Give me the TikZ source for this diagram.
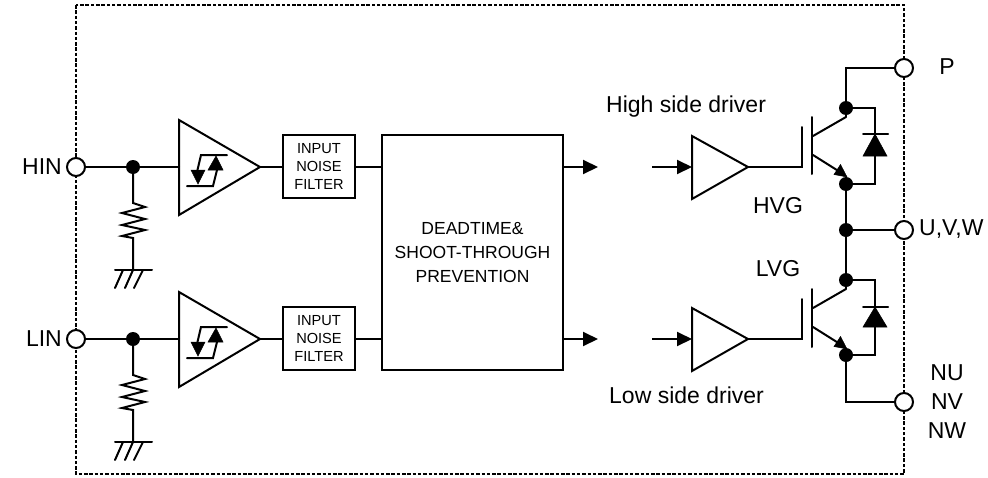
\documentclass[tikz,border=0pt]{standalone}
\usepackage{fontspec}
\setmainfont{Liberation Sans}
\usetikzlibrary{arrows.meta}
\tikzset{
  x=1pt,y=-1pt,
  wire/.style={line width=2pt,line cap=round,line join=miter},
  term/.style={circle,draw,line width=2pt,fill=white,minimum size=18pt,inner sep=0pt},
  junc/.style={circle,fill=black,minimum size=14pt,inner sep=0pt},
  fbox/.style={draw,line width=2pt,minimum width=72pt,minimum height=63pt,inner sep=0pt,align=center,font=\fontsize{14.6}{18}\selectfont},
  lab/.style={inner sep=0pt,font=\fontsize{23}{26}\selectfont,align=center},
  head/.style={-{Triangle[length=15pt,width=14pt]},line width=2pt},
  solid tri/.style={fill=black,draw=black,line width=.5pt},
}
\newcommand{\inputstage}[2]{%
  \begin{scope}[yshift=-#1pt]
  \coordinate (#2s) at (133,203);
  \coordinate (#2g) at (133,270);
  \coordinate (#2gl) at (115,270);
  \coordinate (#2gr) at (152,270);
  \node[term] (#2t) at (76,167) {};
  \node[junc] (#2j) at (133,167) {};
  \coordinate (#2ai) at (179,167);
  \coordinate (#2a) at (179,120);
  \coordinate (#2b) at (179,215);
  \coordinate (#2c) at (260,167);
  \node[fbox] (#2f) at (319,166.5) {INPUT\\NOISE\\FILTER};
  \draw[wire] (#2t) -- (#2j) -- (#2ai);
  \draw[wire] (#2a) -- (#2c) -- (#2b) -- cycle;
  \draw[wire] (#2c) -- (#2f.west |- #2c);
  \draw[wire] (#2j) -- (#2s) -- (145,207) -- (122,213) -- (145,219) -- (122,225) -- (145,230) -- (122,236) -- (133,238) -- (#2g);
  \draw[wire] (#2gl) -- (#2gr);
  \draw[wire] (123,270) -- (115,288) (133,270) -- (125,288) (143,270) -- (134,288);
  % hysteresis symbol
  \draw[wire] (227,155) -- (201,155) -- (197,172);
  \draw[wire] (187,186) -- (213,186) -- (217,170);
  \fill[solid tri] (198,184) -- (191,170) -- (205,170) -- cycle;
  \fill[solid tri] (216,156) -- (208,170) -- (223,170) -- cycle;
  \end{scope}}
\begin{document}
\begin{tikzpicture}
\useasboundingbox (0,0) rectangle (988,477);
\fill[white] (0,0) rectangle (988,477);
\coordinate (bnw) at (76,5);
\coordinate (bse) at (904,474);
\draw[line width=1.1pt,dash pattern=on 3.5pt off 1.8pt] (bnw) rectangle (bse);

\inputstage{0}{h}
\inputstage{172}{l}

\node[draw,line width=2pt,minimum width=181pt,minimum height=235pt,inner sep=0pt,align=center,font=\fontsize{17.5}{24}\selectfont] (dt) at (472.5,252.5) {DEADTIME\&\\SHOOT-THROUGH\\PREVENTION};

\node[lab,anchor=east] at (62,167) {HIN};
\node[lab,anchor=east] at (62,339) {LIN};
\node[lab,anchor=west] at (606,107) {High side driver};
\node[lab,anchor=west] at (609,395) {Low side driver};
\node[lab] at (778,206) {HVG};
\node[lab] at (778,269) {LVG};
\node[lab] at (947,67) {P};
\node[lab,anchor=west] at (919,229) {U,V,W};
\node[lab] at (947,373) {NU};
\node[lab] at (947,402) {NV};
\node[lab] at (947,431) {NW};

% wires between filter and dead time block
\draw[wire] (hf.east |- hc) -- (dt.west |- hc);
\draw[wire] (lf.east |- lc) -- (dt.west |- lc);

% outputs and driver inputs
\foreach \n/\y/\top/\bot in {h/167/136/199,l/339/308/371}{
  \coordinate (\n o) at (598,\y);
  \coordinate (\n i) at (652,\y);
  \coordinate (\n d) at (692,\y);
  \coordinate (\n da) at (692,\top);
  \coordinate (\n db) at (692,\bot);
  \coordinate (\n dc) at (748,\y);
  \draw[head] (dt.east |- \n o) -- (\n o);
  \draw[head] (\n i) -- (\n d);
  \draw[wire] (\n da) -- (\n dc) -- (\n db) -- cycle;
}

% terminals
\node[term] (P) at (904,68) {};
\node[term] (U) at (904,230) {};
\node[term] (N) at (904,402) {};

% junctions
\node[junc] (j1) at (846,108) {};
\node[junc] (j2) at (846,184) {};
\node[junc] (j3) at (846,230) {};
\node[junc] (j4) at (846,280) {};
\node[junc] (j5) at (846,355) {};

\draw[wire] (P) -| (j1);
\draw[wire] (j2) -- (j3) -- (j4);
\draw[wire] (j3) -- (U);
\draw[wire] (j5) |- (N);

% upper IGBT
\coordinate (hgate) at (802,167);
\draw[wire] (hdc) -- (hgate) -- (802,127);
\draw[wire] (812,117) -- (812,174);
\draw[wire] (813,136) -- (846,117);
\draw[wire] (846,117) -- (j1);
\draw[wire] (813,155) -- (840,172);
\fill[solid tri] (847,177) -- (834,174.5) -- (840.5,164.5) -- cycle;
% upper diode
\draw[wire] (j1) -- (875,108) -- (875,184) -- (j2);
\draw[wire] (863,134) -- (888,134);
\fill[solid tri] (875,134) -- (887,156) -- (863,156) -- cycle;

% lower IGBT
\coordinate (lgate) at (802,339);
\draw[wire] (ldc) -- (lgate) -- (802,299);
\draw[wire] (812,289) -- (812,347);
\draw[wire] (813,308) -- (846,289);
\draw[wire] (846,289) -- (j4);
\draw[wire] (813,327) -- (840,344);
\fill[solid tri] (847,349) -- (834,346.5) -- (840.5,336.5) -- cycle;
% lower diode
\draw[wire] (j4) -- (875,280) -- (875,355) -- (j5);
\draw[wire] (863,307) -- (888,307);
\fill[solid tri] (875,307) -- (887,327) -- (863,327) -- cycle;
\end{tikzpicture}
\end{document}
